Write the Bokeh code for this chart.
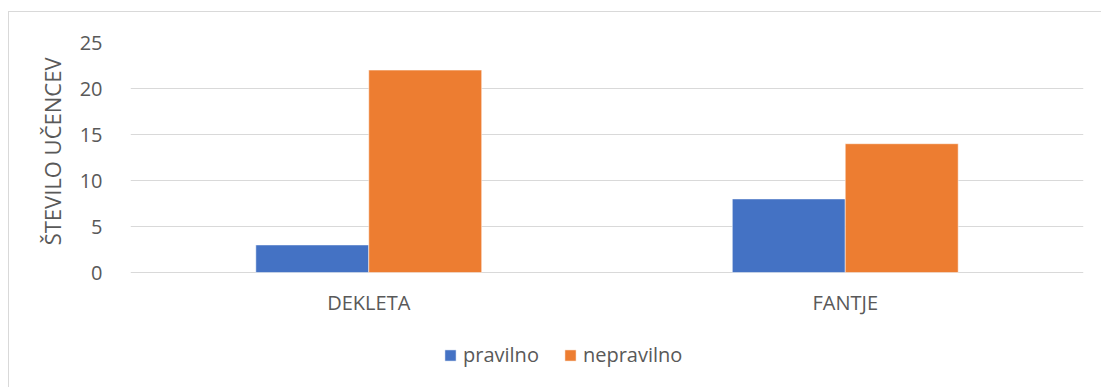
from bokeh.plotting import figure
from bokeh.models import ColumnDataSource, FactorRange, Legend, LegendItem, FixedTicker, Title
from bokeh.core.properties import value
from bokeh.transform import dodge
from bokeh.embed import file_html
from bokeh.resources import INLINE

categories = ["DEKLETA", "FANTJE"]
pravilno = [3, 8]
nepravilno = [22, 14]
series_names = ["pravilno", "nepravilno"]
colors = ["#4472C4", "#ED7D31"]
y_ticks = [0, 5, 10, 15, 20, 25]
y_title = "ŠTEVILO UČENCEV"

src = ColumnDataSource(dict(cat=categories, pravilno=pravilno, nepravilno=nepravilno,
                            lab_y=[-3.3] * len(categories)))

FONT = "Open Sans"
TXT = "#595959"
FS = "20px"

# y range extends below zero so that category labels and legend lie inside the frame
p = figure(x_range=FactorRange(*categories), y_range=(-12.6, 25),
           width=1092, height=376, output_backend="svg", toolbar_location=None,
           min_border_left=121, min_border_right=18, min_border_top=30, min_border_bottom=0)
p.margin = (12, 0, 0, 9)
p.styles = {"outline": "1px solid #d9d9d9"}
p.outline_line_color = None
p.background_fill_color = "white"
p.border_fill_color = "white"

bw = 0.237
r1 = p.vbar(x=dodge("cat", -bw / 2, range=p.x_range), top="pravilno", width=bw, source=src,
            fill_color=colors[0], line_color="white", line_width=0.5)
r2 = p.vbar(x=dodge("cat", bw / 2, range=p.x_range), top="nepravilno", width=bw, source=src,
            fill_color=colors[1], line_color="white", line_width=0.5)

p.text(x="cat", y="lab_y", text="cat", source=src, text_align="center", text_baseline="middle",
       text_font=value(FONT), text_font_size=FS, text_color=TXT)

p.xaxis.visible = False
p.yaxis.ticker = FixedTicker(ticks=y_ticks)
p.ygrid.grid_line_color = "#d9d9d9"
p.ygrid.grid_line_width = 1
p.xgrid.grid_line_color = None
ax = p.yaxis[0]
ax.axis_line_color = None
ax.major_tick_line_color = None
ax.minor_tick_line_color = None
ax.major_label_text_font = FONT
ax.major_label_text_color = TXT
ax.major_label_text_font_size = FS
ax.major_label_standoff = 22

ytitle = Title(text=y_title, align="right", offset=15, vertical_align="middle", standoff=18,
               text_font=FONT, text_font_style="normal", text_color=TXT, text_font_size="22px")
p.add_layout(ytitle, "left")

legend = Legend(items=[LegendItem(label=series_names[0], renderers=[r1]),
                       LegendItem(label=series_names[1], renderers=[r2])],
                orientation="horizontal", location=(313, 20),
                glyph_width=14, glyph_height=14, spacing=24, label_standoff=6,
                label_text_font=FONT, label_text_font_size=FS, label_text_color=TXT,
                border_line_color=None, background_fill_alpha=0,
                margin=0, padding=0)
p.add_layout(legend, "center")

open("out.html", "w").write(file_html(p, INLINE))
